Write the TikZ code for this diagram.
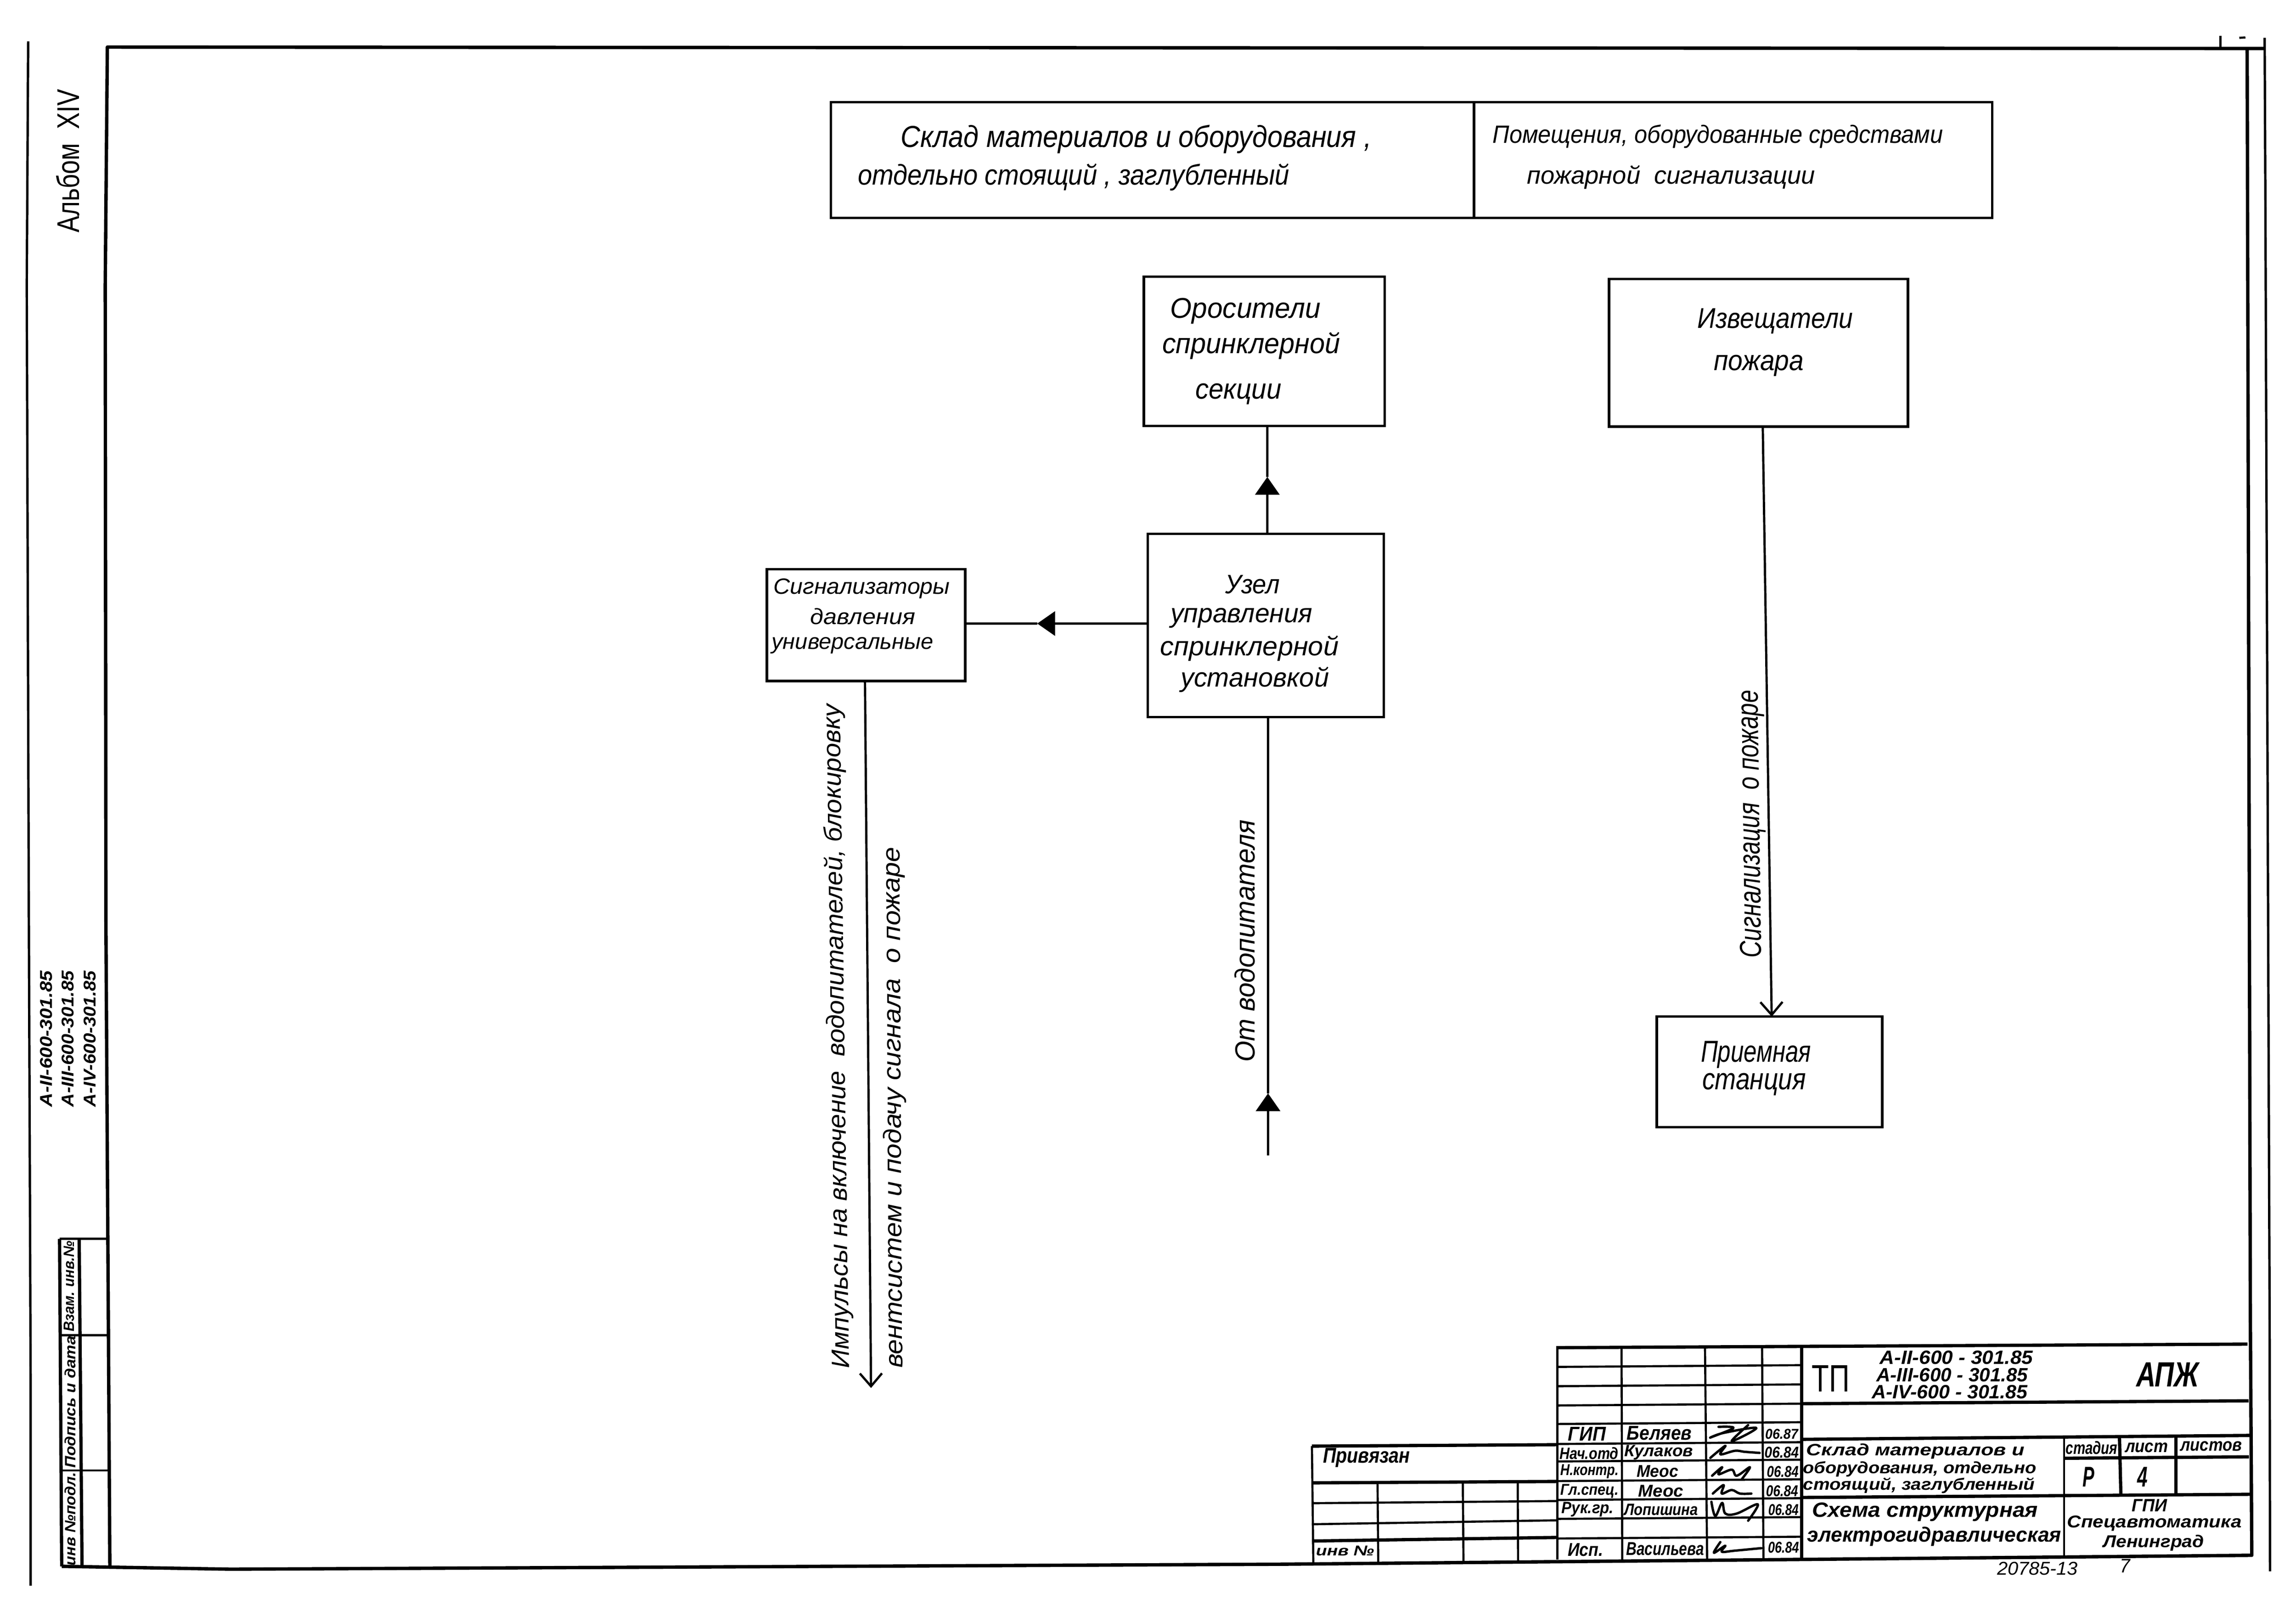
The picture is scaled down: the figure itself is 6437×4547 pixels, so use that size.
\documentclass[tikz,border=0pt]{standalone}
\usepackage{fontspec}
\usepackage{graphicx}
\setmainfont{Liberation Sans}
\usetikzlibrary{arrows.meta}
\newdimen\ux \ux=0.01cm
% #1 width in px, #2 font size in px, #3 text
\newcommand{\Tx}[3]{\resizebox{#1\ux}{\height}{\fontsize{\the\dimexpr #2\ux\relax}{\the\dimexpr #2\ux\relax}\selectfont\itshape #3}}
\newcommand{\Bx}[3]{\resizebox{#1\ux}{\height}{\fontsize{\the\dimexpr #2\ux\relax}{\the\dimexpr #2\ux\relax}\selectfont\itshape\bfseries #3}}
\newcommand{\Ux}[3]{\resizebox{#1\ux}{\height}{\fontsize{\the\dimexpr #2\ux\relax}{\the\dimexpr #2\ux\relax}\selectfont #3}}
\tikzset{
  lbl/.style={inner sep=0pt,outer sep=0pt},
  diagbox/.style={draw,rectangle,inner sep=0pt,outer sep=0pt,line width=2pt},
  conn/.style={line width=1.8pt},
  solidtip/.style={-{Triangle[length=0.5cm,width=0.68cm]}},
  opentip/.style={-{Straight Barb[length=0.36cm,width=0.62cm]}},
  frameline/.style={line width=2.7pt,line join=round},
  sideline/.style={line width=1.9pt},
  gridthin/.style={line width=1.7pt},
  gridthick/.style={line width=2.6pt},
  sign/.style={line width=1.9pt,line cap=round,line join=round}
}
\begin{document}
\begin{tikzpicture}[x=0.01cm,y=-0.01cm]
\useasboundingbox (0,0) rectangle (6437,4547);
% sheet frame
\draw[frameline] (6349,136) -- (301,132) -- (295,800) -- (297,2600) -- (308,4394);
\draw[frameline] (173,4391) -- (647,4399) -- (3600,4385) -- (6313,4360) -- (6309,3700) -- (6300,135);
\draw[sideline] (6349,106) -- (6351,537) -- (6363,3700) -- (6364,4405);
\draw[sideline] (79,116) -- (75,800) -- (81,2600) -- (86,3900) -- (86,4445);
\draw[sideline] (6225,100) -- (6225,135);
\draw[gridthin] (6278,106) -- (6295,105);
% left strip
\draw[gridthin] (167,3473) -- (303,3473);
\draw[gridthin] (169,3743) -- (305,3743);
\draw[gridthin] (171,4122) -- (307,4122);
\draw[gridthick] (167,3473) -- (173,4391);
\draw[gridthick] (222,3473) -- (230,4391);
\node[lbl,rotate=90] (stripa) at (197,4258) {\Bx{262}{42}{инв №подл.}};
\node[lbl,rotate=90] (stripb) at (197,3930) {\Bx{370}{42}{Подпись и дата}};
\node[lbl,rotate=90] (stripc) at (194,3606) {\Bx{254}{42}{Взам. инв.№}};
\node[lbl,rotate=90] (album) at (190,451) {\Ux{403}{88}{Альбом\ \ XIV}};
\node[lbl,rotate=90] (codea) at (130,2912) {\Bx{382}{48}{А-II-600-301.85}};
\node[lbl,rotate=90] (codeb) at (190,2912) {\Bx{382}{48}{А-III-600-301.85}};
\node[lbl,rotate=90] (codec) at (252,2912) {\Bx{382}{48}{А-IV-600-301.85}};
% header
\node[diagbox,minimum width=18.02cm,minimum height=3.24cm] (headl) at (3231,448.5) {};
\node[diagbox,minimum width=14.53cm,minimum height=3.24cm] (headr) at (4858.5,448.5) {};
\node[lbl] (hla) at (3185,390) {\Tx{1320}{85}{Склад материалов и оборудования ,}};
\node[lbl] (hlb) at (3010,497) {\Tx{1210}{80}{отдельно стоящий , заглубленный}};
\node[lbl] (hra) at (4816,382) {\Tx{1262}{70}{Помещения, оборудованные средствами}};
\node[lbl] (hrb) at (4685,497) {\Tx{808}{70}{пожарной\ \ сигнализации}};
% boxes
\node[diagbox,minimum width=6.75cm,minimum height=4.18cm] (oros) at (3544.5,985) {};
\node[diagbox,minimum width=8.38cm,minimum height=4.14cm] (izv) at (4930,989) {};
\node[diagbox,minimum width=6.61cm,minimum height=5.13cm] (uzel) at (3548.5,1753.5) {};
\node[diagbox,minimum width=5.56cm,minimum height=3.13cm] (sig) at (2428,1752.5) {};
\node[diagbox,minimum width=6.32cm,minimum height=3.10cm] (priem) at (4961,3005) {};
\node[lbl] (orosa) at (3492,872) {\Tx{421}{80}{Оросители}};
\node[lbl] (orosb) at (3508,970) {\Tx{499}{80}{спринклерной}};
\node[lbl] (orosc) at (3472,1105) {\Tx{241}{80}{секции}};
\node[lbl] (izva) at (4977,900) {\Tx{436}{80}{Извещатели}};
\node[lbl] (izvb) at (4931,1025) {\Tx{252}{80}{пожара}};
\node[lbl] (uzela) at (3512,1638) {\Tx{152}{75}{Узел}};
\node[lbl] (uzelb) at (3481,1733) {\Tx{398}{75}{управления}};
\node[lbl] (uzelc) at (3503,1818) {\Tx{500}{75}{спринклерной}};
\node[lbl] (uzeld) at (3518,1905) {\Tx{416}{75}{установкой}};
\node[lbl] (siga) at (2416,1650) {\Tx{494}{62}{Сигнализаторы}};
\node[lbl] (sigb) at (2419,1728) {\Tx{294}{62}{давления}};
\node[lbl] (sigc) at (2390,1810) {\Tx{453}{62}{универсальные}};
\node[lbl] (pria) at (4923,2956) {\Tx{309}{85}{Приемная}};
\node[lbl] (prib) at (4918,3040) {\Tx{291}{85}{станция}};
% connectors
\coordinate (tipa) at (3553,1337);
\coordinate (tipb) at (2908,1748);
\coordinate (tipc) at (3555,3065);
\coordinate (sigend) at (2442,3891);
\coordinate (waterend) at (3555,3239);
\draw[conn,solidtip] ([xshift=0.045cm]uzel.north) -- (tipa);
\draw[conn] (tipa) -- ([xshift=0.085cm]oros.south);
\draw[conn,solidtip] ([yshift=0.055cm]uzel.west) -- (tipb);
\draw[conn] (tipb) -- ([yshift=0.045cm]sig.east);
\draw[conn,opentip] ([xshift=-0.03cm]sig.south) -- (sigend);
\draw[conn,solidtip] (waterend) -- (tipc);
\draw[conn] (tipc) -- ([xshift=0.065cm]uzel.south);
\draw[conn,opentip] ([xshift=0.12cm]izv.south) -- ([xshift=0.06cm]priem.north);
% rotated labels
\node[lbl,rotate=90.8] (lbimp) at (2349,2905) {\Tx{1861}{70}{Импульсы на включение\ \ водопитателей, блокировку}};
\node[lbl,rotate=90.3] (lbvent) at (2508,3105) {\Tx{1460}{70}{вентсистем и подачу сигнала\ \ о пожаре}};
\node[lbl,rotate=90] (lbwater) at (3490,2638) {\Tx{679}{78}{От водопитателя}};
\node[lbl,rotate=90.8] (lbfire) at (4912,2310) {\Tx{751}{85}{Сигнализация\ \ о пожаре}};
% title block: grid
\draw[gridthick] (4363,3778) -- (6301,3768);
\foreach \yy in {3832,3886,3940,3992,4048,4097,4152,4205,4258,4313}
  \draw[gridthin] (4363,\yy) -- (5051,\yy-5);
\draw[gridthin] (4366,3778) -- (4366,4372);
\draw[gridthin] (4546,3776) -- (4548,4372);
\draw[gridthin] (4780,3775) -- (4786,4371);
\draw[gridthin] (4940,3774) -- (4944,4370);
\draw[gridthick] (5051,3773) -- (5051,4369);
\draw[gridthick] (5051,3935) -- (6304,3927);
\draw[gridthick] (5051,4035) -- (6307,4024);
\draw[gridthin] (5787,4030) -- (5787,4360);
\draw[gridthick] (5942,4028) -- (5946,4192);
\draw[gridthick] (6100,4026) -- (6100,4192);
\draw[gridthick] (5787,4088) -- (6305,4084);
\draw[gridthick] (5051,4198) -- (6310,4189);
% title block: Привязан table
\draw[gridthick] (3678,4054) -- (4363,4050);
\draw[gridthick] (3678,4157) -- (4363,4153);
\draw[gridthin] (3678,4214) -- (4363,4208);
\draw[gridthin] (3678,4273) -- (4363,4262);
\draw[gridthick] (3678,4320) -- (4363,4310);
\draw[gridthin] (3678,4054) -- (3682,4382);
\draw[gridthin] (3862,4157) -- (3864,4381);
\draw[gridthin] (4101,4155) -- (4103,4379);
\draw[gridthin] (4255,4154) -- (4256,4376);
\node[lbl] (priv) at (3831,4087) {\Bx{244}{60}{Привязан}};
\node[lbl] (invn) at (3771,4348) {\Bx{163}{40}{инв №}};
% title block: people
\node[lbl] (ra) at (4449,4020) {\Bx{106}{56}{ГИП}};
\node[lbl] (rb) at (4652,4017) {\Bx{182}{56}{Беляев}};
\node[lbl] (rc) at (4995,4020) {\Bx{92}{40}{06.87}};
\node[lbl] (sa) at (4455,4074) {\Bx{165}{46}{Нач.отд}};
\node[lbl] (sb) at (4650,4072) {\Bx{193}{46}{Кулаков}};
\node[lbl] (sc) at (4995,4072) {\Bx{96}{44}{06.84}};
\node[lbl] (ta) at (4456,4125) {\Bx{163}{44}{Н.контр.}};
\node[lbl] (tb) at (4647,4125) {\Bx{117}{48}{Меос}};
\node[lbl] (tc) at (4998,4126) {\Bx{89}{44}{06.84}};
\node[lbl] (ua) at (4456,4180) {\Bx{163}{44}{Гл.спец.}};
\node[lbl] (ub) at (4656,4180) {\Bx{127}{48}{Меос}};
\node[lbl] (uc) at (4996,4180) {\Bx{90}{44}{06.84}};
\node[lbl] (va) at (4451,4232) {\Bx{146}{46}{Рук.гр.}};
\node[lbl] (vb) at (4657,4232) {\Bx{207}{46}{Лопишина}};
\node[lbl] (vc) at (5000,4232) {\Bx{85}{44}{06.84}};
\node[lbl] (wa) at (4445,4345) {\Bx{99}{52}{Исп.}};
\node[lbl] (wb) at (4668,4342) {\Bx{218}{52}{Васильева}};
\node[lbl] (wc) at (5000,4338) {\Bx{87}{44}{06.84}};
% signatures
\draw[sign] plot[smooth,tension=.6] coordinates {(4818,4000) (4860,4003) (4795,4030) (4832,4017) (4924,4003) (4855,4040) (4901,3995)};
\draw[sign] plot[smooth,tension=.6] coordinates {(4795,4087) (4837,4053) (4823,4077) (4864,4067) (4892,4070) (4933,4073)};
\draw[sign] plot[smooth,tension=.6] coordinates {(4800,4137) (4828,4113) (4818,4133) (4855,4120) (4869,4137) (4906,4113) (4883,4147)};
\draw[sign] plot[smooth,tension=.6] coordinates {(4802,4187) (4832,4163) (4827,4187) (4855,4177) (4878,4187) (4910,4187)};
\draw[sign] plot[smooth,tension=.6] coordinates {(4798,4210) (4809,4250) (4828,4213) (4837,4243) (4869,4243) (4928,4217) (4901,4263)};
\draw[sign] plot[smooth,tension=.6] coordinates {(4823,4323) (4805,4353) (4837,4333) (4827,4350) (4864,4347) (4938,4340)};
% title block: designation
\node[lbl] (tp) at (5132,3864) {\Ux{106}{107}{ТП}};
\node[lbl] (da) at (5485,3806) {\Bx{429}{54}{А-II-600 - 301.85}};
\node[lbl] (db) at (5473,3854) {\Bx{425}{54}{А-III-600 - 301.85}};
\node[lbl] (dc) at (5466,3902) {\Bx{437}{54}{А-IV-600 - 301.85}};
\node[lbl] (apzh) at (6077,3854) {\Bx{176}{98}{АПЖ}};
\node[lbl] (na) at (5370,4068) {\Bx{611}{46}{Склад материалов и}};
\node[lbl] (nb) at (5382,4118) {\Bx{654}{46}{оборудования, отдельно}};
\node[lbl] (nc) at (5380,4165) {\Bx{649}{46}{стоящий, заглубленный}};
\node[lbl] (oa) at (5397,4238) {\Bx{633}{58}{Схема структурная}};
\node[lbl] (ob) at (5423,4308) {\Bx{712}{58}{электрогидравлическая}};
\node[lbl] (ca) at (5864,4059) {\Bx{145}{50}{стадия}};
\node[lbl] (cb) at (6018,4058) {\Bx{120}{50}{лист}};
\node[lbl] (cc) at (6199,4054) {\Bx{172}{50}{листов}};
\node[lbl] (cd) at (5856,4140) {\Bx{33}{80}{Р}};
\node[lbl] (ce) at (6006,4140) {\Bx{29}{80}{4}};
\node[lbl] (ga) at (6026,4220) {\Bx{99}{50}{ГПИ}};
\node[lbl] (gb) at (6040,4270) {\Bx{489}{48}{Спецавтоматика}};
\node[lbl] (gc) at (6038,4325) {\Bx{282}{48}{Ленинград}};
\node[lbl] (numa) at (5712,4397) {\Tx{226}{52}{20785-13}};
\node[lbl] (numb) at (5958,4390) {\Tx{29}{55}{7}};
\end{tikzpicture}
\end{document}
